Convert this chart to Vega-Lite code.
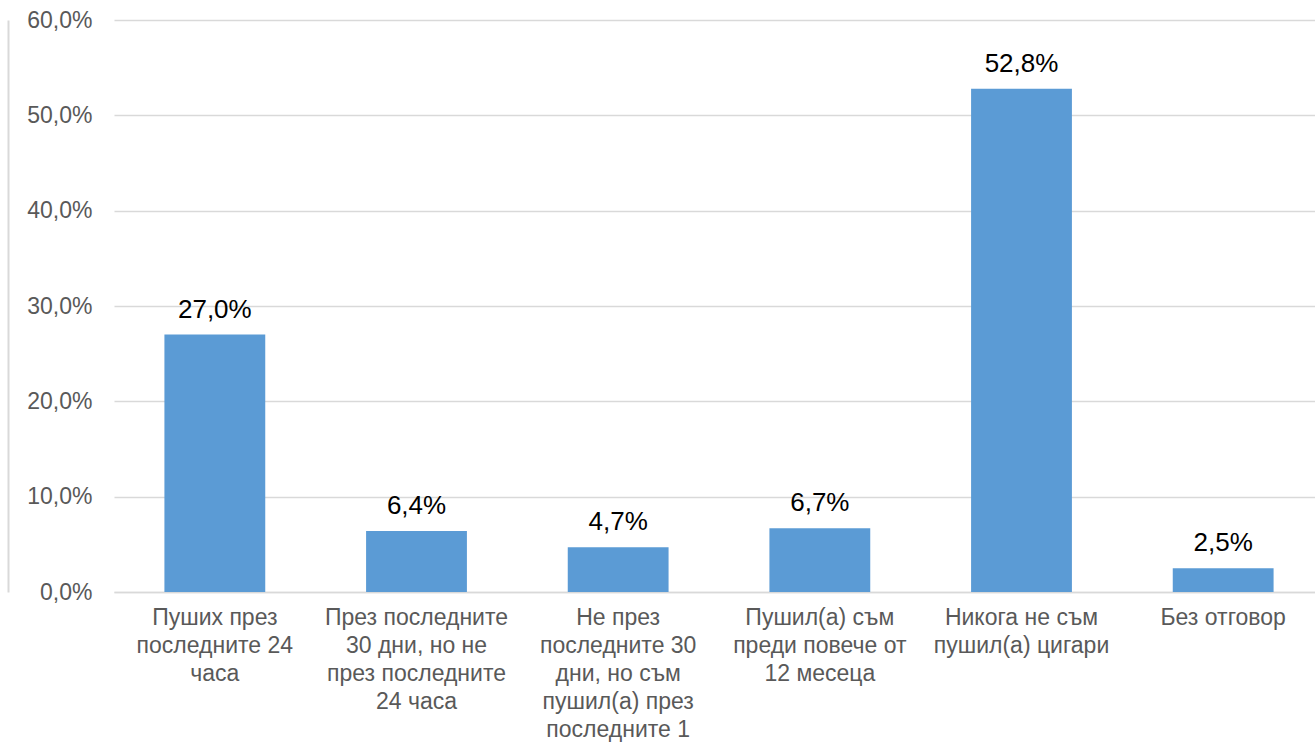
{
  "$schema": "https://vega.github.io/schema/vega-lite/v6.json",
  "autosize": "none",
  "width": 1210,
  "height": 572,
  "padding": {"left": 114, "top": 20, "right": 0, "bottom": 156},
  "background": "white",
  "config": {
    "locale": {"number": {"decimal": ",", "thousands": " ", "grouping": [3], "currency": ["", ""]}},
    "view": {"stroke": null},
    "font": "Liberation Sans"
  },
  "data": {
    "values": [
      {"category": "Пуших през\nпоследните 24\nчаса", "share": 0.270},
      {"category": "През последните\n30 дни, но не\nпрез последните\n24 часа", "share": 0.064},
      {"category": "Не през\nпоследните 30\nдни, но съм\nпушил(а) през\nпоследните 1", "share": 0.047},
      {"category": "Пушил(а) съм\nпреди повече от\n12 месеца", "share": 0.067},
      {"category": "Никога не съм\nпушил(а) цигари", "share": 0.528},
      {"category": "Без отговор", "share": 0.025}
    ]
  },
  "encoding": {
    "x": {
      "field": "category",
      "type": "nominal",
      "sort": null,
      "scale": {"paddingInner": 0.5, "paddingOuter": 0.25},
      "axis": {
        "title": null,
        "labelAngle": 0,
        "labelExpr": "split(datum.label, '\\n')",
        "labelFont": "Liberation Sans",
        "labelFontSize": 23,
        "labelColor": "#595959",
        "labelLineHeight": 28,
        "labelPadding": 14,
        "labelBaseline": "top",
        "labelLimit": 0,
        "ticks": false,
        "domain": true,
        "domainColor": "#D9D9D9",
        "domainWidth": 1.5
      }
    }
  },
  "layer": [
    {
      "mark": {"type": "bar", "color": "#5B9BD5"},
      "encoding": {
        "y": {
          "field": "share",
          "type": "quantitative",
          "scale": {"domain": [0, 0.6]},
          "axis": {
            "title": null,
            "values": [0, 0.1, 0.2, 0.3, 0.4, 0.5, 0.6],
            "format": ".1%",
            "labelFont": "Liberation Sans",
            "labelFontSize": 23,
            "labelColor": "#595959",
            "labelPadding": 22,
            "ticks": false,
            "domain": false,
            "grid": true,
            "gridColor": "#D9D9D9",
            "gridWidth": 1.5
          }
        }
      }
    },
    {
      "mark": {"type": "text", "baseline": "alphabetic", "dy": -17, "font": "Liberation Sans", "fontSize": 26, "color": "#000000"},
      "encoding": {
        "y": {
          "field": "share",
          "type": "quantitative",
          "scale": {"domain": [0, 0.6]},
          "axis": {
            "title": null,
            "orient": "left",
            "offset": 106,
            "labels": false,
            "ticks": false,
            "grid": false,
            "domain": true,
            "domainColor": "#D9D9D9",
            "domainWidth": 2
          }
        },
        "text": {"field": "share", "type": "quantitative", "format": ".1%"}
      }
    }
  ],
  "resolve": {"axis": {"y": "independent"}}
}
